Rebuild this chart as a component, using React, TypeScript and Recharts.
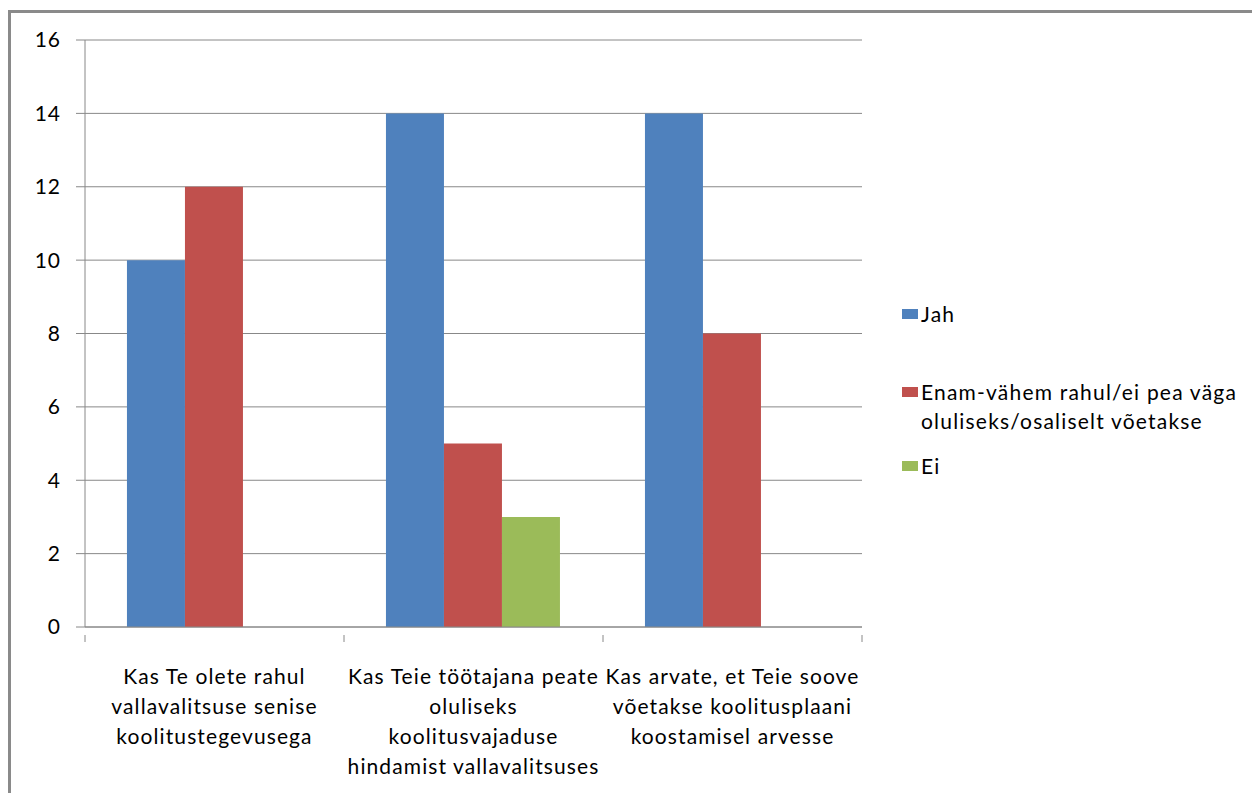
import React from "react";
import { Bar, BarChart, CartesianGrid, XAxis, YAxis } from "recharts";

const categories = [
  "Kas Te olete rahul\nvallavalitsuse senise\nkoolitustegevusega",
  "Kas Teie töötajana peate\noluliseks\nkoolitusvajaduse\nhindamist vallavalitsuses",
  "Kas arvate, et Teie soove\nvõetakse koolitusplaani\nkoostamisel arvesse",
];
const jah = [10, 14, 14];
const enam = [12, 5, 8];
const ei = [0, 3, 0];
const yTicks = [0, 2, 4, 6, 8, 10, 12, 14, 16];

const seriesNames = ["Jah", "Enam-vähem rahul/ei pea väga\noluliseks/osaliselt võetakse", "Ei"];
const seriesColors = ["#4F81BD", "#C0504D", "#9BBB59"];

const data = categories.map((c, i) => ({ cat: c, jah: jah[i], enam: enam[i], ei: ei[i] }));

const W = 1252;
const H = 793;
const PLOT_LEFT = 85;
const PLOT_RIGHT = 862;
const PLOT_TOP = 40;
const PLOT_BOTTOM = 627;
const FONT = "Lato, 'Open Sans', sans-serif";
const GRID = "#888888";

function CatTick(props: any) {
  const { x, y, payload, index } = props;
  const half = (PLOT_RIGHT - PLOT_LEFT) / categories.length / 2;
  const lines = String(payload.value).split("\n");
  return (
    <g>
      <line x1={x - half} x2={x - half} y1={y} y2={y + 7} stroke={GRID} />
      {index === categories.length - 1 && (
        <line x1={x + half} x2={x + half} y1={y} y2={y + 7} stroke={GRID} />
      )}
      {lines.map((l, i) => (
        <text
          key={i}
          x={x}
          y={y + 40 + i * 30}
          textAnchor="middle"
          dominantBaseline="central"
          fontSize={21}
          letterSpacing={1.1}
          fill="#000"
          fontFamily={FONT}
        >
          {l}
        </text>
      ))}
    </g>
  );
}

export default function App() {
  return (
    <div style={{ position: "absolute", left: 0, top: 0, width: W, height: H, background: "#fff", overflow: "hidden" }}>
      <div
        style={{
          position: "absolute",
          left: 8,
          top: 10,
          width: W + 50,
          height: H + 50,
          borderLeft: "3px solid #8a8a8a",
          borderTop: "3px solid #8a8a8a",
        }}
      />
      <div style={{ position: "absolute", left: 0, top: 0 }}>
        <BarChart
          width={W}
          height={H}
          data={data}
          margin={{ top: PLOT_TOP, right: W - PLOT_RIGHT, left: 0, bottom: 0 }}
          barCategoryGap="16.2%"
          barGap={0}
          style={{ fontFamily: FONT }}
        >
          <CartesianGrid vertical={false} stroke={GRID} strokeWidth={1} />
          <XAxis
            dataKey="cat"
            height={H - PLOT_BOTTOM}
            tickLine={false}
            axisLine={{ stroke: GRID, strokeWidth: 1 }}
            tick={<CatTick />}
            interval={0}
          />
          <YAxis
            width={PLOT_LEFT}
            domain={[0, 16]}
            ticks={yTicks}
            tickSize={9}
            tickMargin={15}
            tickLine={{ stroke: GRID }}
            axisLine={{ stroke: GRID }}
            tick={{ fontSize: 21, fill: "#000", fontFamily: FONT, letterSpacing: 1 }}
            interval={0}
          />
          <Bar dataKey="jah" name={seriesNames[0]} fill={seriesColors[0]} isAnimationActive={false} />
          <Bar dataKey="enam" name={seriesNames[1]} fill={seriesColors[1]} isAnimationActive={false} />
          <Bar dataKey="ei" name={seriesNames[2]} fill={seriesColors[2]} isAnimationActive={false} />
        </BarChart>
      </div>
      <div style={{ position: "absolute", left: 902, top: 0, fontFamily: FONT, fontSize: 21, letterSpacing: 1.2, color: "#000" }}>
        {seriesNames.map((n, i) => {
          const tops = [299, 377, 451];
          return (
            <div key={i} style={{ position: "absolute", top: tops[i], left: 0, display: "flex", alignItems: "flex-start", whiteSpace: "pre", lineHeight: "29px" }}>
              <span
                style={{ display: "inline-block", width: 16, height: 10, background: seriesColors[i], marginTop: 10, marginRight: 3 }}
              />
              <span>{n}</span>
            </div>
          );
        })}
      </div>
    </div>
  );
}
